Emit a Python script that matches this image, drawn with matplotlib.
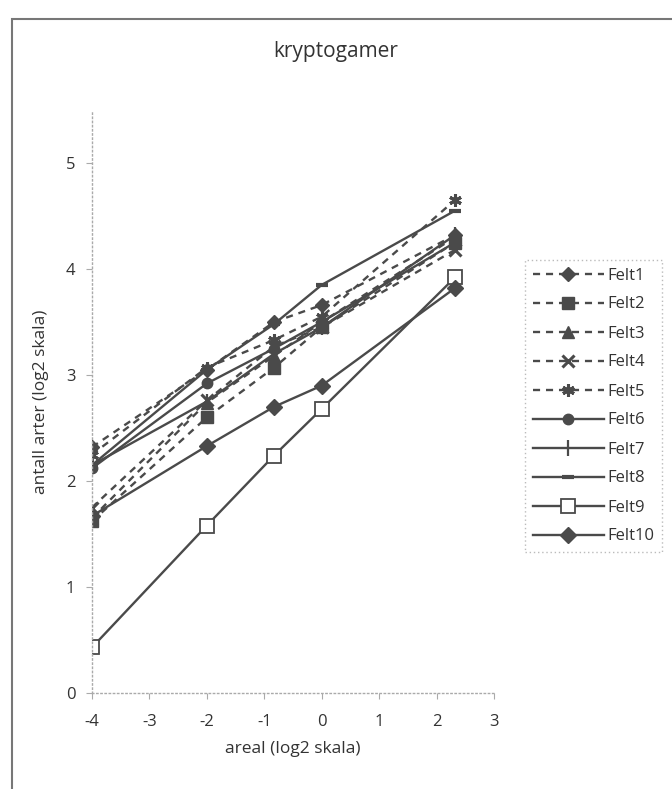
import matplotlib
matplotlib.use("Agg")
import matplotlib.pyplot as plt
from matplotlib.patches import Rectangle

plt.rcParams['font.family'] = ['Open Sans', 'DejaVu Sans']

x_vals = [-4, -2, -0.83, 0, 2.32]
series_names = ["Felt1", "Felt2", "Felt3", "Felt4", "Felt5",
                "Felt6", "Felt7", "Felt8", "Felt9", "Felt10"]
felt1 = [2.32, 3.05, 3.50, 3.66, 4.32]
felt2 = [1.62, 2.60, 3.07, 3.45, 4.25]
felt3 = [1.65, 2.74, 3.18, 3.50, 4.30]
felt4 = [1.75, 2.76, 3.27, 3.45, 4.18]
felt5 = [2.25, 3.07, 3.33, 3.55, 4.65]
felt6 = [2.12, 2.92, 3.25, 3.50, 4.25]
felt7 = [2.15, 2.75, 3.20, 3.45, 4.32]
felt8 = [2.15, 3.05, 3.48, 3.85, 4.55]
felt9 = [0.43, 1.58, 2.24, 2.68, 3.92]
felt10 = [1.67, 2.33, 2.70, 2.90, 3.82]
all_series = [felt1, felt2, felt3, felt4, felt5, felt6, felt7, felt8, felt9, felt10]

x_ticks = [-4, -3, -2, -1, 0, 1, 2, 3]
y_ticks = [0, 1, 2, 3, 4, 5]

col = "#4a4a4a"
styles = [
    dict(ls=(0, (3, 2.5)), marker="D", ms=7, mfc=col),
    dict(ls=(0, (3, 2.5)), marker="s", ms=8, mfc=col),
    dict(ls=(0, (3, 2.5)), marker="^", ms=8, mfc=col),
    dict(ls=(0, (3, 2.5)), marker="x", ms=8, mew=2.2, mfc=col),
    dict(ls=(0, (3, 2.5)), marker=(6, 2, 0), ms=9, mew=2.2, mfc=col),
    dict(ls="-", marker="o", ms=7.5, mfc=col),
    dict(ls="-", marker="|", ms=11, mew=1.6, mfc=col),
    dict(ls="-", marker="_", ms=9, mew=3, mfc=col),
    dict(ls="-", marker="s", ms=10, mfc="white", mew=1.3),
    dict(ls="-", marker="D", ms=8, mfc=col),
]

W, H = 672, 789
fig = plt.figure(figsize=(W / 100, H / 100), dpi=100)

# outer chart frame
fig.patches.append(Rectangle((12 / W, -0.1), 1.2, (H - 19) / H + 0.1,
                             transform=fig.transFigure, fill=False,
                             edgecolor="#777777", lw=1.5))

ax_left, ax_right = 92, 494
y0_px, y5_px = 693, 163
ymax = 5.5
top_px = y0_px - (y0_px - y5_px) / 5 * ymax
ax = fig.add_axes([ax_left / W, (H - y0_px) / H,
                   (ax_right - ax_left) / W, (y0_px - top_px) / H])

for name, vals, st in zip(series_names, all_series, styles):
    ax.plot(x_vals, vals, color=col, lw=1.7, mec=col, label=name, **st)

ax.set_xlim(-4, 3)
ax.set_ylim(0, ymax)
ax.set_xticks(x_ticks)
ax.set_yticks(y_ticks)
ax.set_xticklabels([str(t) for t in x_ticks])
ax.set_yticklabels([str(t) for t in y_ticks])
for s in ["top", "right"]:
    ax.spines[s].set_visible(False)
for s in ["left", "bottom"]:
    ax.spines[s].set_color("#aaaaaa")
    ax.spines[s].set_linestyle((0, (1, 2)))
    ax.spines[s].set_linewidth(1)
ax.tick_params(axis="both", colors="#aaaaaa", labelcolor="#333333",
               labelsize=12, length=4, direction="out")
ax.tick_params(axis="x", pad=11)
ax.tick_params(axis="y", pad=8)

ax.set_xlabel("areal (log2 skala)", fontsize=12.5, color="#333333", labelpad=8)
ax.set_ylabel("antall arter (log2 skala)", fontsize=12.5, color="#333333", labelpad=12)
fig.text(336 / W, 1 - 52 / H, "kryptogamer", ha="center", va="center",
         fontsize=15, color="#333333")

leg = fig.legend(loc="upper left", bbox_to_anchor=(525 / W, 1 - 260 / H),
                 frameon=True, fancybox=False, fontsize=12, handlelength=4.3,
                 labelspacing=0.78, borderpad=0.45, handletextpad=0.2,
                 borderaxespad=0, labelcolor="#333333")
leg.get_frame().set_edgecolor("#aaaaaa")
leg.get_frame().set_linestyle((0, (1, 2)))
leg.get_frame().set_linewidth(1)

fig.savefig("out.png", dpi=100)
